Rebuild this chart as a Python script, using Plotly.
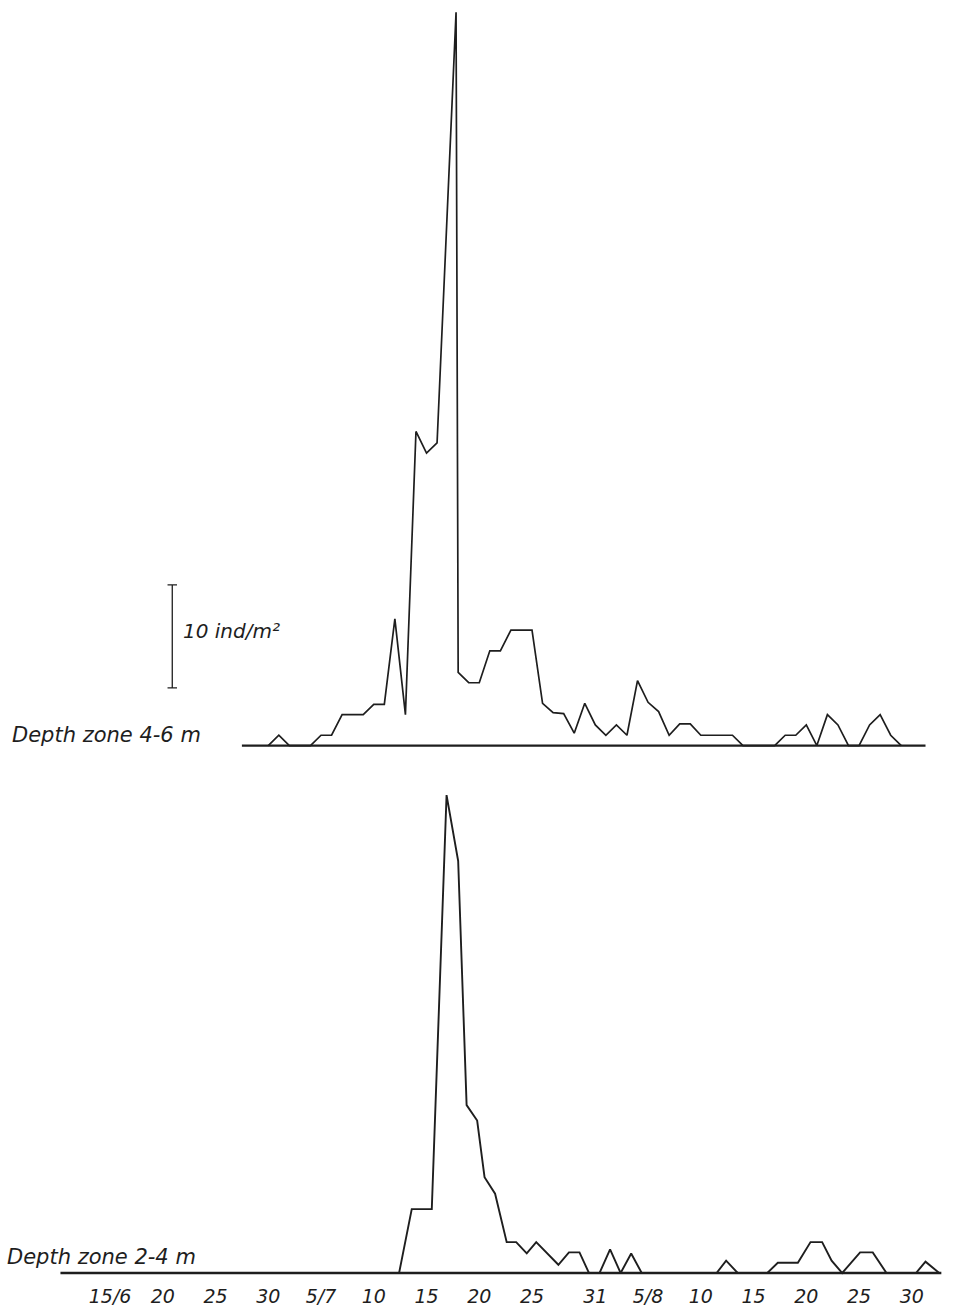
import plotly.graph_objects as go

# ---- data (x = days after 15 June, y = ind/m^2) ----
tick_days = [0, 5, 10, 15, 20, 25, 30, 35, 40, 46, 51, 56, 61, 66, 71, 76]
tick_labels = ["15/6", "20", "25", "30", "5/7", "10", "15", "20", "25", "31",
               "5/8", "10", "15", "20", "25", "30"]

# Depth zone 4-6 m
days_46 = [15, 16, 17, 18, 19, 20, 21, 22, 23, 24, 25, 26, 27, 28, 29, 30, 31,
           32.8, 33, 34, 35, 36, 37, 38, 39, 40, 41, 42, 43, 44, 45, 46, 47, 48,
           49, 50, 51, 52, 53, 54, 55, 56, 57, 58, 59, 60, 61, 62, 63, 64, 65,
           66, 67, 68, 69, 70, 71, 72, 73, 74, 75]
dens_46 = [0, 1, 0, 0, 0, 1, 1, 3, 3, 3, 4, 4, 12.3, 3, 30.5, 28.4, 29.4,
           71.2, 7.1, 6.1, 6.1, 9.2, 9.2, 11.2, 11.2, 11.2, 4.1, 3.2, 3.1, 1.2, 4.1, 2, 1, 2,
           1, 6.3, 4.2, 3.3, 1, 2.1, 2.1, 1, 1, 1, 1, 0, 0, 0, 0, 1, 1,
           2, 0, 3, 2, 0, 0, 2, 3, 1, 0]
base_46 = [12.5, 77.3]

# Depth zone 2-4 m
days_24 = [27.4, 28.6, 30.5, 31.9, 33.0, 33.8, 34.8, 35.5, 36.5, 37.6, 38.5,
           39.5, 40.4, 42.5, 43.5, 44.5, 45.4, 46.4, 47.4, 48.4, 49.4, 50.4,
           57.5, 58.4, 59.5, 62.3, 63.3, 65.2, 66.4, 67.5, 68.4, 69.4, 71.1,
           72.3, 73.6, 76.4, 77.3, 78.6]
dens_24 = [0, 6.2, 6.2, 46.4, 40.0, 16.3, 14.8, 9.3, 7.7, 3, 3,
           1.9, 3, 0.8, 2, 2, 0, 0, 2.3, 0, 1.9, 0,
           0, 1.2, 0, 0, 1, 1, 3, 3, 1.2, 0, 2,
           2, 0, 0, 1.1, 0]
base_24 = [-4.7, 78.8]

scale_bar_day = 5.9
scale_bar_bottom = 5.6
scale_bar_len = 10

INK = "#1e1e1e"
FONT = "DejaVu Sans"

fig = go.Figure()

# upper panel
fig.add_trace(go.Scatter(x=base_46, y=[0, 0], mode="lines",
                         line=dict(color=INK, width=2.2), xaxis="x2", yaxis="y2",
                         hoverinfo="skip", showlegend=False))
fig.add_trace(go.Scatter(x=days_46, y=dens_46, mode="lines",
                         line=dict(color=INK, width=1.7), xaxis="x2", yaxis="y2",
                         showlegend=False))
# lower panel
fig.add_trace(go.Scatter(x=base_24, y=[0, 0], mode="lines",
                         line=dict(color=INK, width=2.4), xaxis="x", yaxis="y",
                         hoverinfo="skip", showlegend=False))
fig.add_trace(go.Scatter(x=days_24, y=dens_24, mode="lines",
                         line=dict(color=INK, width=1.9), xaxis="x", yaxis="y",
                         showlegend=False))

# scale bar (10 ind/m^2)
sb_top = scale_bar_bottom + scale_bar_len
shapes = [
    dict(type="line", xref="x2", yref="y2", x0=scale_bar_day, x1=scale_bar_day,
         y0=scale_bar_bottom, y1=sb_top, line=dict(color=INK, width=1.3)),
    dict(type="line", xref="x2", yref="y2", x0=scale_bar_day - 0.45, x1=scale_bar_day + 0.45,
         y0=scale_bar_bottom, y1=scale_bar_bottom, line=dict(color=INK, width=1.3)),
    dict(type="line", xref="x2", yref="y2", x0=scale_bar_day - 0.45, x1=scale_bar_day + 0.45,
         y0=sb_top, y1=sb_top, line=dict(color=INK, width=1.3)),
]

annotations = [
    dict(text="10 ind/m²", xref="x2", yref="y2", x=scale_bar_day + 0.85,
         y=scale_bar_bottom + scale_bar_len / 2 + 0.5, xanchor="left", yanchor="middle",
         showarrow=False, font=dict(family=FONT, size=20, color=INK, style="italic")),
    dict(text="Depth zone 4-6 m", xref="x2", yref="y2", x=-9.5, y=1.0,
         xanchor="left", yanchor="middle", showarrow=False,
         font=dict(family=FONT, size=21, color=INK, style="italic")),
    dict(text="Depth zone 2-4 m", xref="x", yref="y", x=-10.0, y=1.6,
         xanchor="left", yanchor="middle", showarrow=False,
         font=dict(family=FONT, size=21, color=INK, style="italic")),
]

x_range = [-10.43, 80.19]
fig.update_layout(
    width=956, height=1312,
    margin=dict(l=0, r=0, t=0, b=0),
    paper_bgcolor="white", plot_bgcolor="white",
    shapes=shapes, annotations=annotations,
    xaxis=dict(domain=[0, 1], range=x_range, showgrid=False, zeroline=False,
               showline=False, ticks="", tickvals=tick_days, ticktext=tick_labels,
               tickfont=dict(family=FONT, size=19, color=INK, style="italic"),
               anchor="y"),
    yaxis=dict(domain=[0.02187, 0.4131], range=[-1, 48.83], visible=False),
    xaxis2=dict(domain=[0, 1], range=x_range, visible=False, anchor="y2"),
    yaxis2=dict(domain=[0.4239, 1.0], range=[-1, 72.4], visible=False),
)

fig.write_html("out.html")
